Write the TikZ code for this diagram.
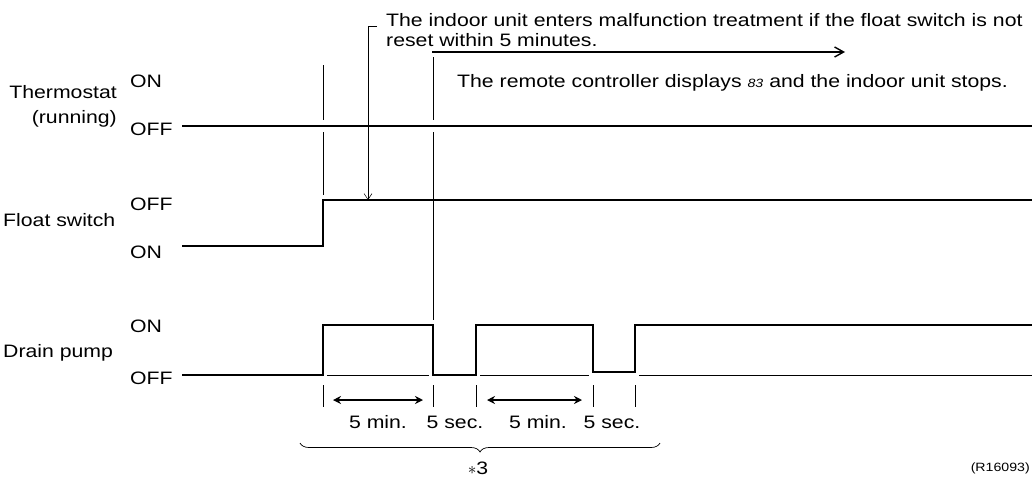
\documentclass[tikz,border=0pt]{standalone}
\usepackage{fontspec}
\setmainfont[FakeStretch=1.18]{Liberation Sans}
\usetikzlibrary{decorations.pathreplacing,arrows.meta}
\begin{document}
\begin{tikzpicture}[x=1pt,y=-1pt,
 sig/.style={line width=1.6pt},
 guide/.style={line width=0.5pt},
 base/.style={line width=0.6pt},
 lab/.style={font=\fontsize{18}{21}\selectfont,inner sep=0pt},
 dim/.style={line width=1.5pt,{Stealth[length=8pt,width=8pt]}-{Stealth[length=8pt,width=8pt]}}]
\useasboundingbox (0,0) rectangle (1032,482);
% labels
\node[lab,anchor=base east] (th) at (117,98) {Thermostat};
\node[lab,anchor=base east] (run) at (117,123) {(running)};
\node[lab,anchor=base west] (thon) at (130,87) {ON};
\node[lab,anchor=base west] (thoff) at (130,135) {OFF};
\node[lab,anchor=base west] (fs) at (3,226) {Float switch};
\node[lab,anchor=base west] (fsoff) at (130,210) {OFF};
\node[lab,anchor=base west] (fson) at (130,258) {ON};
\node[lab,anchor=base west] (dp) at (3,357) {Drain pump};
\node[lab,anchor=base west] (dpon) at (130,332) {ON};
\node[lab,anchor=base west] (dpoff) at (130,384) {OFF};
% guide lines
\draw[guide] (323,65) -- (323,120) (323,132) -- (323,195);
\draw[guide] (433,57) -- (433,120) (433,132) -- (433,320);
\draw[guide] (433,330) -- (433,370);
\foreach \x in {323,433,476,593,635} \draw[guide] (\x,385) -- (\x,407);
% signals
\draw[sig] (182,126) -- (1032,126);
\draw[sig] (182,246) -- (323,246) -- (323,200) -- (1032,200);
\draw[sig] (182,375) -- (323,375) -- (323,325) -- (433,325) -- (433,375) -- (476,375) -- (476,325) -- (593,325) -- (593,372) -- (635,372) -- (635,325) -- (1032,325);
\draw[base] (327,375) -- (429,375) (480,375) -- (589,375) (639,375) -- (1032,375);
% note
\node[lab,anchor=base west] (n1) at (386,26) {The indoor unit enters malfunction treatment if the float switch is not};
\node[lab,anchor=base west] (n2) at (386,46) {reset within 5 minutes.};
\coordinate (bk) at (377,26);
\coordinate (fa) at (368,200);
\draw[guide,-{Straight Barb[length=6pt,width=8pt]}] (bk) -- (368,26) -- (fa);
\draw[line width=1.4pt,-{Straight Barb[length=9pt,width=10pt]}] (432,52) -- (845,52);
\node[lab,anchor=base west] (rc) at (457,87) {The remote controller displays {\fontsize{12}{14}\selectfont\itshape 83} and the indoor unit stops.};
% dimensions
\draw[dim] (333,400) -- (423,400);
\draw[dim] (487,400) -- (582,400);
\node[lab,anchor=base] (m1) at (378,428) {5 min.};
\node[lab,anchor=base] (s1) at (455,428) {5 sec.};
\node[lab,anchor=base] (m2) at (538,428) {5 min.};
\node[lab,anchor=base] (s2) at (612,428) {5 sec.};
\draw[line width=0.7pt,decorate,decoration={brace,mirror,amplitude=9pt}] (300,443) -- (660,443);
\node[lab,anchor=base] (st) at (478,474) {$*$3};
\node[inner sep=0pt,anchor=base east,font=\fontsize{12}{14}\selectfont] (ref) at (1030,471) {(R16093)};
\end{tikzpicture}
\end{document}
